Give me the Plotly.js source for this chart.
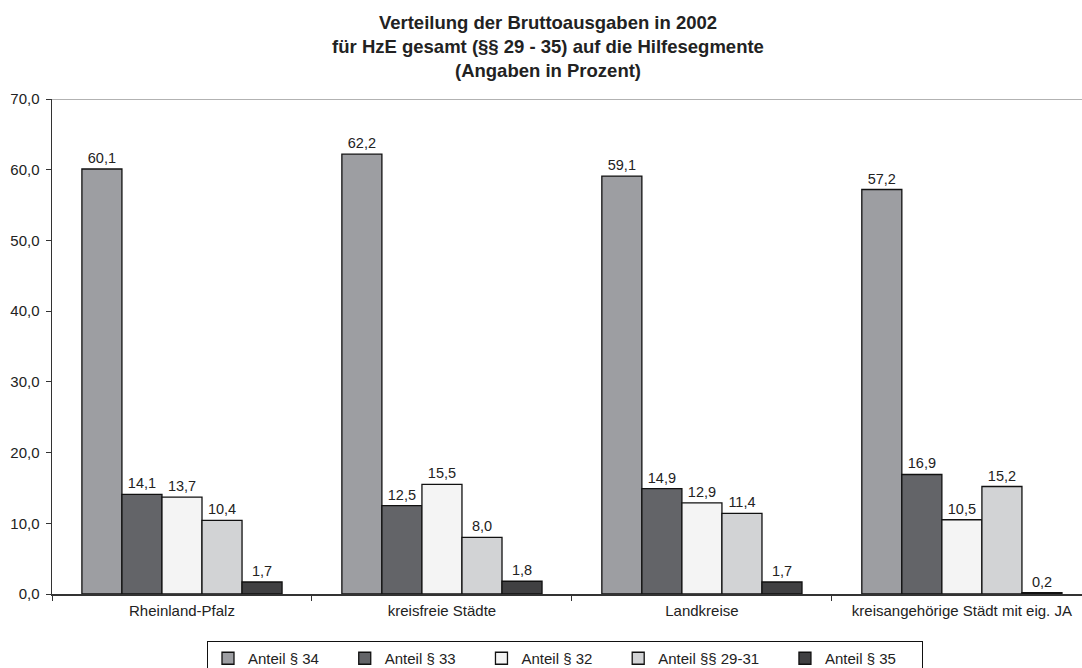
<!DOCTYPE html>
<html>
<head>
<meta charset="utf-8">
<script src="https://cdn.plot.ly/plotly-3.0.1.min.js"></script>
<style>html,body{margin:0;padding:0;background:#fff;}#chart{width:1082px;height:668px;}</style>
</head>
<body>
<div id="chart"></div>
<script>
const categories = ["Rheinland-Pfalz", "kreisfreie Städte", "Landkreise", "kreisangehörige Städt mit eig. JA"];
const seriesNames = ["Anteil § 34", "Anteil § 33", "Anteil § 32", "Anteil §§ 29-31", "Anteil § 35"];
const anteil34 = [60.1, 62.2, 59.1, 57.2];
const anteil33 = [14.1, 12.5, 14.9, 16.9];
const anteil32 = [13.7, 15.5, 12.9, 10.5];
const anteil2931 = [10.4, 8.0, 11.4, 15.2];
const anteil35 = [1.7, 1.8, 1.7, 0.2];
const yTicks = [0, 10, 20, 30, 40, 50, 60, 70];

const seriesValues = [anteil34, anteil33, anteil32, anteil2931, anteil35];
const colors = ["#9d9ea2", "#636468", "#f4f4f4", "#d2d3d5", "#404042"];
const FONT = "Arial, 'Liberation Sans', sans-serif";
const PAD = "\u00A0\u00A0\u00A0\u00A0\u00A0";

const traces = seriesValues.map((vals, i) => ({
  type: "bar",
  name: seriesNames[i] + PAD,
  x: categories,
  y: vals,
  marker: {color: colors[i], line: {color: "#111", width: 1.3}},
  texttemplate: "%{y:.1f}",
  textposition: "outside",
  cliponaxis: false,
  textfont: {family: FONT, size: 14.5, color: "#222"},
  hoverinfo: "skip"
}));

const layout = {
  width: 1082,
  height: 668,
  margin: {l: 52, r: 0, t: 99, b: 74, autoexpand: false},
  paper_bgcolor: "#fff",
  plot_bgcolor: "#fff",
  separators: ",.",
  font: {family: FONT, size: 15, color: "#222"},
  title: {
    text: "<b>Verteilung der Bruttoausgaben in 2002<br>für HzE gesamt (§§ 29 - 35) auf die Hilfesegmente<br>(Angaben in Prozent)</b>",
    font: {family: FONT, size: 18.5, color: "#222"},
    x: 548 / 1082, xref: "container", xanchor: "center",
    y: 1 - 29 / 668, yref: "container", yanchor: "top"
  },
  barmode: "group",
  bargap: 0.23,
  bargroupgap: 0,
  showlegend: true,
  legend: {
    orientation: "h",
    x: (207 - 52) / 1030, xanchor: "left",
    y: -(641 - 594) / 495, yanchor: "top",
    bordercolor: "#111", borderwidth: 1,
    itemwidth: 30,
    font: {family: FONT, size: 15, color: "#222"},
    traceorder: "normal"
  },
  xaxis: {
    type: "category",
    range: [-0.5, 3.462],
    showline: true, linecolor: "#333", linewidth: 1.5,
    ticks: "outside", ticklen: 5, tickcolor: "#333",
    tickson: "boundaries",
    ticklabelstandoff: 2,
    showgrid: false,
    tickfont: {family: FONT, size: 15, color: "#222"},
    fixedrange: true
  },
  yaxis: {
    range: [0, 70],
    tickvals: yTicks,
    tickformat: ".1f",
    showline: true, linecolor: "#333", linewidth: 1.5,
    ticks: "outside", ticklen: 5, tickcolor: "#333",
    ticklabelstandoff: 3,
    showgrid: false, zeroline: false,
    tickfont: {family: FONT, size: 15, color: "#222"},
    fixedrange: true
  },
  shapes: [{
    type: "line", xref: "paper", yref: "y", x0: 0, x1: 1, y0: 70, y1: 70,
    line: {color: "#999", width: 1.5}, layer: "below"
  }]
};

Plotly.newPlot("chart", traces, layout, {displayModeBar: false, staticPlot: true});
</script>
</body>
</html>
